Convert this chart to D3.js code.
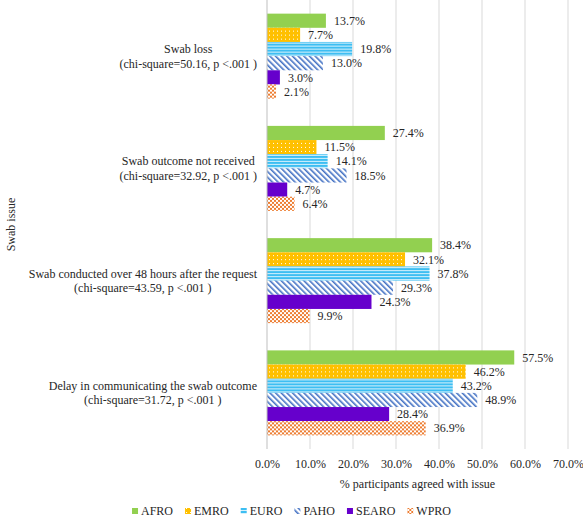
<!DOCTYPE html>
<html>
<head>
<meta charset="utf-8">
<script src="https://cdn.jsdelivr.net/npm/d3@7"></script>
<style>
body { margin: 0; background: #fff; }
text { font-family: "Liberation Serif", "Times New Roman", serif; fill: #262626; }
</style>
</head>
<body>
<svg id="chart" width="583" height="520"></svg>
<script>
const categories = [
  ["Swab loss", "(chi-square=50.16, p <.001 )"],
  ["Swab outcome not received", "(chi-square=32.92, p <.001 )"],
  ["Swab conducted over 48 hours after the request", "(chi-square=43.59, p <.001 )"],
  ["Delay in communicating the swab outcome", "(chi-square=31.72, p <.001 )"]
];
const series = ["AFRO", "EMRO", "EURO", "PAHO", "SEARO", "WPRO"];
const AFRO  = [13.7, 27.4, 38.4, 57.5];
const EMRO  = [7.7, 11.5, 32.1, 46.2];
const EURO  = [19.8, 14.1, 37.8, 43.2];
const PAHO  = [13.0, 18.5, 29.3, 48.9];
const SEARO = [3.0, 4.7, 24.3, 28.4];
const WPRO  = [2.1, 6.4, 9.9, 36.9];
const xTicks = [0, 10, 20, 30, 40, 50, 60, 70];
const xTitle = "% participants agreed with issue";
const yTitle = "Swab issue";

const values = { AFRO, EMRO, EURO, PAHO, SEARO, WPRO };
const svg = d3.select("#chart");

// patterns
const defs = svg.append("defs");
let p = defs.append("pattern").attr("id", "p-EMRO").attr("patternUnits", "userSpaceOnUse").attr("width", 4).attr("height", 4);
p.append("rect").attr("width", 4).attr("height", 4).attr("fill", "#FFC000");
p.append("rect").attr("x", 1).attr("y", 1).attr("width", 1).attr("height", 1).attr("fill", "#fff");
p = defs.append("pattern").attr("id", "p-EURO").attr("patternUnits", "userSpaceOnUse").attr("width", 4).attr("height", 3);
p.append("rect").attr("width", 4).attr("height", 3).attr("fill", "#3DBEF2");
p.append("rect").attr("y", 2).attr("width", 4).attr("height", 1).attr("fill", "#D6F1FC");
p = defs.append("pattern").attr("id", "p-PAHO").attr("patternUnits", "userSpaceOnUse").attr("width", 4).attr("height", 4).attr("patternTransform", "rotate(-45)");
p.append("rect").attr("width", 4).attr("height", 4).attr("fill", "#fff");
p.append("rect").attr("width", 1.6).attr("height", 4).attr("fill", "#4472C4");
p = defs.append("pattern").attr("id", "p-WPRO").attr("patternUnits", "userSpaceOnUse").attr("width", 4).attr("height", 4);
p.append("rect").attr("width", 4).attr("height", 4).attr("fill", "#fff");
p.append("rect").attr("width", 2).attr("height", 2).attr("fill", "#ED7D31");
p.append("rect").attr("x", 2).attr("y", 2).attr("width", 2).attr("height", 2).attr("fill", "#ED7D31");

const fills = {
  AFRO: "#92D050",
  EMRO: "url(#p-EMRO)",
  EURO: "url(#p-EURO)",
  PAHO: "url(#p-PAHO)",
  SEARO: "#6600CC",
  WPRO: "url(#p-WPRO)"
};

const FS = 12;
const plot = { left: 267, right: 568, top: 0, bottom: 449 };
const x = d3.scaleLinear().domain([0, 70]).range([plot.left, plot.right]);
const y0 = d3.scaleBand().domain(d3.range(categories.length)).range([plot.top, plot.bottom]).paddingInner(0.243).paddingOuter(0.1215);
const y1 = d3.scaleBand().domain(series).range([0, y0.bandwidth()]).padding(0);

// gridlines
svg.append("g").selectAll("line").data(xTicks.slice(1)).join("line")
  .attr("x1", d => x(d)).attr("x2", d => x(d))
  .attr("y1", plot.top).attr("y2", plot.bottom)
  .attr("stroke", "#D9D9D9").attr("stroke-width", 1);

// bars
const groups = svg.append("g").selectAll("g").data(categories).join("g")
  .attr("transform", (d, i) => `translate(0,${y0(i)})`);
groups.each(function(c, i) {
  const g = d3.select(this);
  series.forEach(s => {
    const v = values[s][i];
    g.append("rect")
      .attr("x", x(0)).attr("y", y1(s))
      .attr("width", x(v) - x(0)).attr("height", y1.bandwidth())
      .attr("fill", fills[s]);
    g.append("text")
      .attr("x", x(v) + 8).attr("y", y1(s) + y1.bandwidth() / 2)
      .attr("dy", "0.35em").attr("font-size", FS)
      .text(v.toFixed(1) + "%");
  });
});

// y axis line
svg.append("line").attr("x1", x(0)).attr("x2", x(0)).attr("y1", plot.top).attr("y2", plot.bottom)
  .attr("stroke", "#BFBFBF");

// x axis
const xAxis = d3.axisBottom(x).tickValues(xTicks).tickSize(0).tickFormat(d => d.toFixed(1) + "%");
const xg = svg.append("g").attr("transform", `translate(0,${plot.bottom})`).call(xAxis);
xg.select(".domain").remove();
xg.selectAll("text").attr("font-size", FS).attr("font-family", "Liberation Serif").attr("fill", "#262626").attr("dy", "0.35em").attr("y", 15);

// category labels
const labelRight = 257;
categories.forEach((lines, i) => {
  const cy = y0(i) + y0.bandwidth() / 2;
  const g = svg.append("g");
  const ts = lines.map((l, j) => g.append("text").attr("font-size", FS).attr("text-anchor", "middle")
    .attr("y", cy + (j - 0.5) * 14.5).attr("dy", "0.35em").text(l));
  const w = d3.max(ts, t => t.node().getComputedTextLength());
  ts.forEach(t => t.attr("x", labelRight - w / 2));
});

// axis titles
svg.append("text").attr("x", (plot.left + plot.right) / 2).attr("y", 484).attr("dy", "0.35em")
  .attr("text-anchor", "middle").attr("font-size", FS).text(xTitle);
svg.append("text").attr("transform", `translate(11,${(plot.top + plot.bottom) / 2}) rotate(-90)`)
  .attr("dy", "0.35em").attr("text-anchor", "middle").attr("font-size", FS).text(yTitle);

// legend
const GAP = 12;
const leg = svg.append("g");
let lx = 0;
series.forEach(s => {
  const it = leg.append("g").attr("transform", `translate(${lx},0)`);
  it.append("rect").attr("x", 0).attr("y", -3).attr("width", 6).attr("height", 6).attr("fill", fills[s]);
  const t = it.append("text").attr("x", 9).attr("dy", "0.35em").attr("font-size", FS).text(s);
  lx += 9 + t.node().getComputedTextLength() + GAP;
});
lx -= GAP;
leg.attr("transform", `translate(${(583 - lx) / 2},511)`);
</script>
</body>
</html>
